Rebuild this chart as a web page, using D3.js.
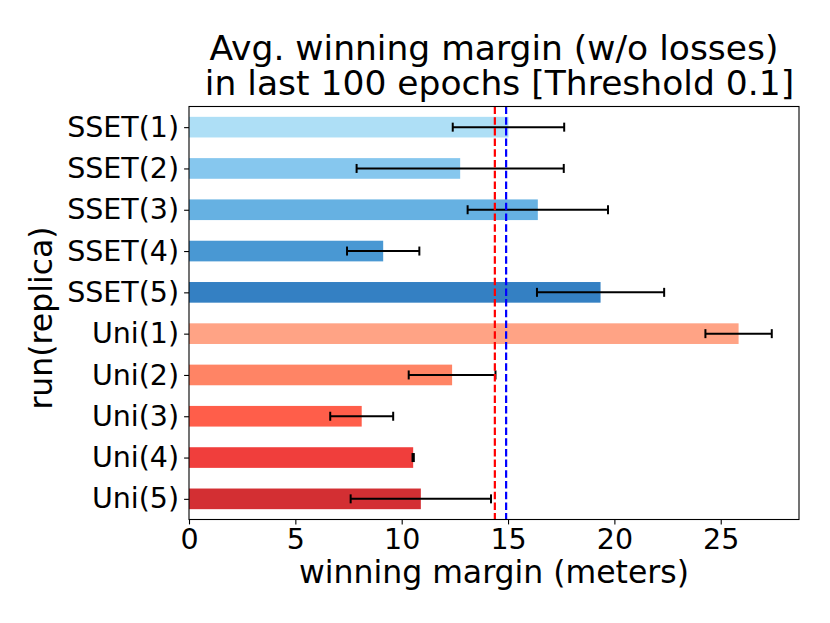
<!DOCTYPE html>
<html>
<head>
<meta charset="utf-8">
<script src="https://cdn.jsdelivr.net/npm/d3@7.9.0/dist/d3.min.js"></script>
<style>
  html, body { margin: 0; padding: 0; background: #fff; }
  svg { display: block; }
  text { font-family: 'DejaVu Sans', sans-serif; fill: #000; }
</style>
</head>
<body>
<svg id="chart" width="830" height="623"></svg>
<script>
const runs = ['SSET(1)', 'SSET(2)', 'SSET(3)', 'SSET(4)', 'SSET(5)',
              'Uni(1)', 'Uni(2)', 'Uni(3)', 'Uni(4)', 'Uni(5)'];
const margins = [15.02, 12.75, 16.40, 9.13, 19.35, 25.84, 12.37, 8.12, 10.54, 10.90];
const errors = [2.62, 4.87, 3.30, 1.70, 2.99, 1.56, 2.04, 1.48, 0.03, 3.30];
const barColors = ['#aedff6', '#86c7ee', '#66b1e2', '#4998d3', '#3480c3',
                   '#ffa385', '#ff8465', '#ff5e4a', '#f03e3c', '#d32f33'];
const refLines = [
  { value: 14.38, color: '#ff0000' },
  { value: 14.91, color: '#0000ff' }
];
const xTicks = [0, 5, 10, 15, 20, 25];
const titleLines = ['Avg. winning margin (w/o losses)', ' in last 100 epochs [Threshold 0.1]'];

const plotL = 189, plotR = 799, plotT = 106.5, plotB = 519.5;
const svg = d3.select('#chart');

const x = d3.scaleLinear().domain([0, 28.68]).range([plotL, plotR]);
const y = d3.scaleLinear().domain([-0.5, runs.length - 0.5]).range([plotT, plotB]);
const barH = y(0.25) - y(-0.25);

// bars
svg.append('g')
  .selectAll('rect')
  .data(runs)
  .join('rect')
  .attr('x', x(0))
  .attr('y', (d, i) => y(i) - barH / 2)
  .attr('width', (d, i) => x(margins[i]) - x(0))
  .attr('height', barH)
  .attr('fill', (d, i) => barColors[i]);

// error bars
const eb = svg.append('g').attr('stroke', '#000').attr('stroke-width', 2);
runs.forEach((r, i) => {
  const lo = x(margins[i] - errors[i]);
  const hi = x(margins[i] + errors[i]);
  const cy = y(i);
  eb.append('line').attr('x1', lo).attr('x2', hi).attr('y1', cy).attr('y2', cy);
  eb.append('line').attr('x1', lo).attr('x2', lo).attr('y1', cy - 4.5).attr('y2', cy + 4.5);
  eb.append('line').attr('x1', hi).attr('x2', hi).attr('y1', cy - 4.5).attr('y2', cy + 4.5);
});

// dashed reference lines
svg.append('g')
  .selectAll('line')
  .data(refLines)
  .join('line')
  .attr('x1', d => x(d.value))
  .attr('x2', d => x(d.value))
  .attr('y1', plotT)
  .attr('y2', plotB)
  .attr('stroke', d => d.color)
  .attr('stroke-width', 2.2)
  .attr('stroke-dasharray', '7.5,3.2');

// frame
svg.append('rect')
  .attr('x', plotL).attr('y', plotT)
  .attr('width', plotR - plotL).attr('height', plotB - plotT)
  .attr('fill', 'none').attr('stroke', '#000').attr('stroke-width', 1.1);

// x axis
const xAxis = svg.append('g')
  .attr('transform', `translate(0,${plotB})`)
  .call(d3.axisBottom(x).tickValues(xTicks).tickSize(4.9).tickPadding(4).tickFormat(d3.format('d')));
xAxis.select('.domain').remove();
xAxis.selectAll('line').attr('stroke-width', 1.1);
xAxis.selectAll('text')
  .attr('font-size', 28.5)
  .attr('font-family', 'DejaVu Sans');

// y axis
const yAxis = svg.append('g')
  .attr('transform', `translate(${plotL},0)`)
  .call(d3.axisLeft(y).tickValues(d3.range(runs.length)).tickSize(4.9).tickPadding(5)
    .tickFormat(i => runs[i]));
yAxis.select('.domain').remove();
yAxis.selectAll('line').attr('stroke-width', 1.1);
yAxis.selectAll('text')
  .attr('font-size', 28.5)
  .attr('font-family', 'DejaVu Sans');

// axis labels
svg.append('text')
  .attr('x', (plotL + plotR) / 2)
  .attr('y', 583)
  .attr('text-anchor', 'middle')
  .attr('font-size', 31.5)
  .text('winning margin (meters)');

svg.append('text')
  .attr('transform', `translate(52,${(plotT + plotB) / 2 + 5}) rotate(-90)`)
  .attr('text-anchor', 'middle')
  .attr('font-size', 31.5)
  .text('run(replica)');

// title
svg.append('text')
  .attr('text-anchor', 'middle')
  .attr('font-size', 34.5)
  .style('white-space', 'pre')
  .selectAll('tspan')
  .data(titleLines)
  .join('tspan')
  .attr('x', (plotL + plotR) / 2)
  .attr('y', (d, i) => 59.5 + i * 35.7)
  .text(d => d);
</script>
</body>
</html>
